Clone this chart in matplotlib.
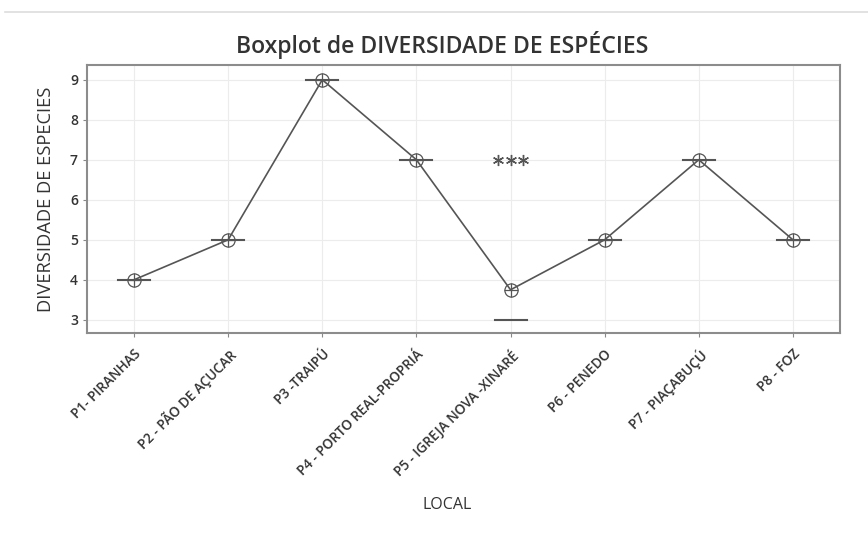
import numpy as np
import matplotlib
matplotlib.use("Agg")
import matplotlib.pyplot as plt
from matplotlib.lines import Line2D

plt.rcParams['font.family'] = ['Open Sans', 'DejaVu Sans']

# Species diversity observed at each sampling site
sites = ["P1- PIRANHAS", "P2 - PÃO DE AÇUCAR", "P3 -TRAIPÚ",
         "P4 - PORTO REAL-PROPRIÁ", "P5 - IGREJA NOVA -XINARÉ",
         "P6 - PENEDO", "P7 - PIAÇABUÇÚ", "P8 - FOZ"]
p1 = [4, 4, 4]
p2 = [5, 5, 5]
p3 = [9, 9, 9]
p4 = [7, 7, 7]
p5 = [3, 3, 3, 3, 3, 3, 3, 3, 3, 3, 3, 3, 3, 7, 7, 7]
p6 = [5, 5, 5]
p7 = [7, 7, 7]
p8 = [5, 5, 5]
site_values = [p1, p2, p3, p4, p5, p6, p7, p8]
yticks = [3, 4, 5, 6, 7, 8, 9]

line_col = "#555555"
fig = plt.figure(figsize=(8.68, 5.45), dpi=100)
ax = fig.add_axes([0.1002, 0.389, 0.8675, 0.4918])

box_half = 0.17
asterisk = (6, 2, 0)
means = []
for i, vals in enumerate(site_values, start=1):
    v = np.asarray(vals, dtype=float)
    q1, med, q3 = np.percentile(v, [25, 50, 75])
    iqr = q3 - q1
    lo, hi = q1 - 1.5 * iqr, q3 + 1.5 * iqr
    inside = v[(v >= lo) & (v <= hi)]
    out = v[(v < lo) | (v > hi)]
    # collapsed box / median line
    ax.add_patch(plt.Rectangle((i - box_half, q1), 2 * box_half, q3 - q1,
                               fill=False, edgecolor=line_col, lw=1.3))
    ax.plot([i - box_half, i + box_half], [med, med], color=line_col, lw=1.5, zorder=3)
    ax.plot([i, i], [inside.min(), q1], color=line_col, lw=1.0)
    ax.plot([i, i], [q3, inside.max()], color=line_col, lw=1.0)
    # tied outliers drawn side by side
    for val in np.unique(out):
        n = int(np.sum(out == val))
        offs = (np.arange(n) - (n - 1) / 2) * 0.135
        ax.plot(i + offs, [val] * n, linestyle="none", marker=asterisk,
                markersize=8, color=line_col, markeredgewidth=1.0, zorder=4)
    means.append(v.mean())

xs = np.arange(1, len(sites) + 1)
ax.plot(xs, means, color=line_col, lw=1.2, zorder=3)
ax.plot(xs, means, linestyle="none", marker="o", markersize=9.5,
        markerfacecolor="none", markeredgecolor=line_col, markeredgewidth=0.9, zorder=4)
ax.plot(xs, means, linestyle="none", marker="+", markersize=9.5,
        color=line_col, markeredgewidth=0.9, zorder=4)

ax.set_xlim(0.5, 8.5)
ax.set_ylim(2.67, 9.37)
ax.set_yticks(yticks)
ax.set_xticks(xs)
ax.set_xticklabels(sites, rotation=45, ha="right", rotation_mode="anchor",
                   fontsize=9.8, fontweight="semibold", color="#333333")
ax.tick_params(axis="x", pad=7)
ax.tick_params(axis="both", length=3, color="#888888", width=0.8)
ax.tick_params(axis="y", labelsize=10, labelcolor="#333333")
for lab in ax.get_yticklabels():
    lab.set_fontweight("semibold")
ax.grid(True, color="#ececec", lw=0.8)
ax.set_axisbelow(True)
for s in ax.spines.values():
    s.set_color("#8c8c8c")
    s.set_linewidth(1.5)

ax.set_ylabel("DIVERSIDADE DE ESPECIES", fontsize=13.2, color="#333333", labelpad=11)
fig.text(0.515, 0.073, "LOCAL", ha="center", va="center", fontsize=11.5, color="#333333")
fig.text(0.509, 0.917, "Boxplot de DIVERSIDADE DE ESPÉCIES", ha="center", va="center",
         fontsize=16.6, fontweight="semibold", color="#333333")

fig.add_artist(Line2D([5 / 868, 1.0], [1 - 12 / 545, 1 - 12 / 545],
                      transform=fig.transFigure, color="#dddddd", lw=1.2))

fig.savefig("out.png", dpi=100)
